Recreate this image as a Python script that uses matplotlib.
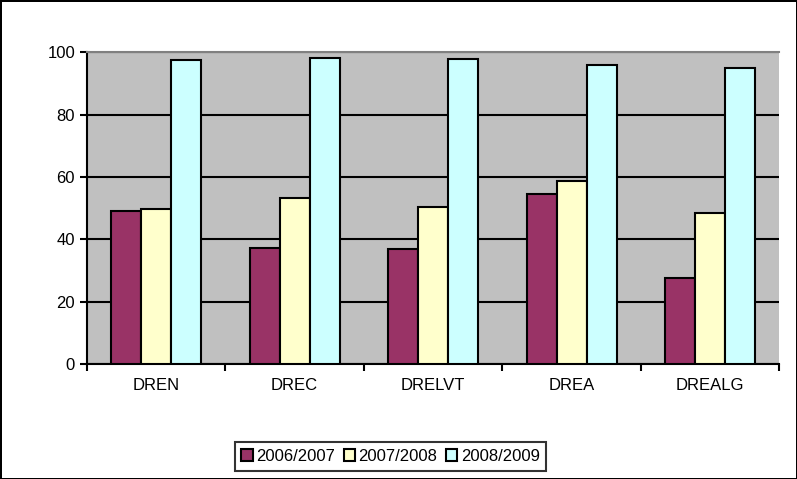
import matplotlib
matplotlib.use("Agg")
import matplotlib.pyplot as plt
import numpy as np

plt.rcParams["font.family"] = ["Liberation Sans", "DejaVu Sans"]

# Data
categories = ["DREN", "DREC", "DRELVT", "DREA", "DREALG"]
series_labels = ["2006/2007", "2007/2008", "2008/2009"]
v_2006 = [49.0, 37.2, 37.0, 54.5, 27.5]
v_2007 = [49.7, 53.2, 50.5, 58.8, 48.5]
v_2008 = [97.6, 98.2, 97.8, 95.8, 95.0]
colors = ["#993366", "#ffffcc", "#ccffff"]

fig = plt.figure(figsize=(7.97, 4.79), dpi=100)
fig.patch.set_edgecolor("black")
fig.patch.set_linewidth(2)
ax = fig.add_axes([0.109, 0.240, 0.869, 0.651])
ax.set_facecolor("#c0c0c0")

x = np.arange(len(categories))
w = 0.216
for i, vals in enumerate([v_2006, v_2007, v_2008]):
    ax.bar(x + (i - 1) * w, vals, w, color=colors[i], edgecolor="black",
           linewidth=1.5, label=series_labels[i], zorder=3)

ax.set_xlim(-0.5, len(categories) - 0.5)
ax.set_ylim(0, 100)
ax.set_yticks(range(0, 101, 20))
ax.yaxis.grid(True, color="black", linewidth=1.5, zorder=0)
ax.set_xticks(x)
ax.set_xticklabels(categories)
ax.set_xticks(np.arange(-0.5, len(categories)), minor=True)
ax.tick_params(axis="x", which="major", length=0, pad=10, labelsize=12)
ax.tick_params(axis="x", which="minor", length=5, width=1.5, direction="out")
ax.tick_params(axis="y", length=5, width=1.5, labelsize=12)
ax.spines["right"].set_visible(False)
ax.spines["top"].set_color("#808080")
ax.spines["top"].set_linewidth(1.5)
ax.spines["top"].set_zorder(4)
for s in ["left", "bottom"]:
    ax.spines[s].set_linewidth(1.5)

leg = fig.legend(loc="lower center", bbox_to_anchor=(0.49, 0.0), ncol=3,
                 frameon=True, fancybox=False, edgecolor="black", fontsize=12,
                 handlelength=0.7, handleheight=0.7, handletextpad=0.2,
                 columnspacing=0.5, borderpad=0.4)
leg.get_frame().set_linewidth(1.5)

fig.savefig("out.png", dpi=100, edgecolor=fig.get_edgecolor())
